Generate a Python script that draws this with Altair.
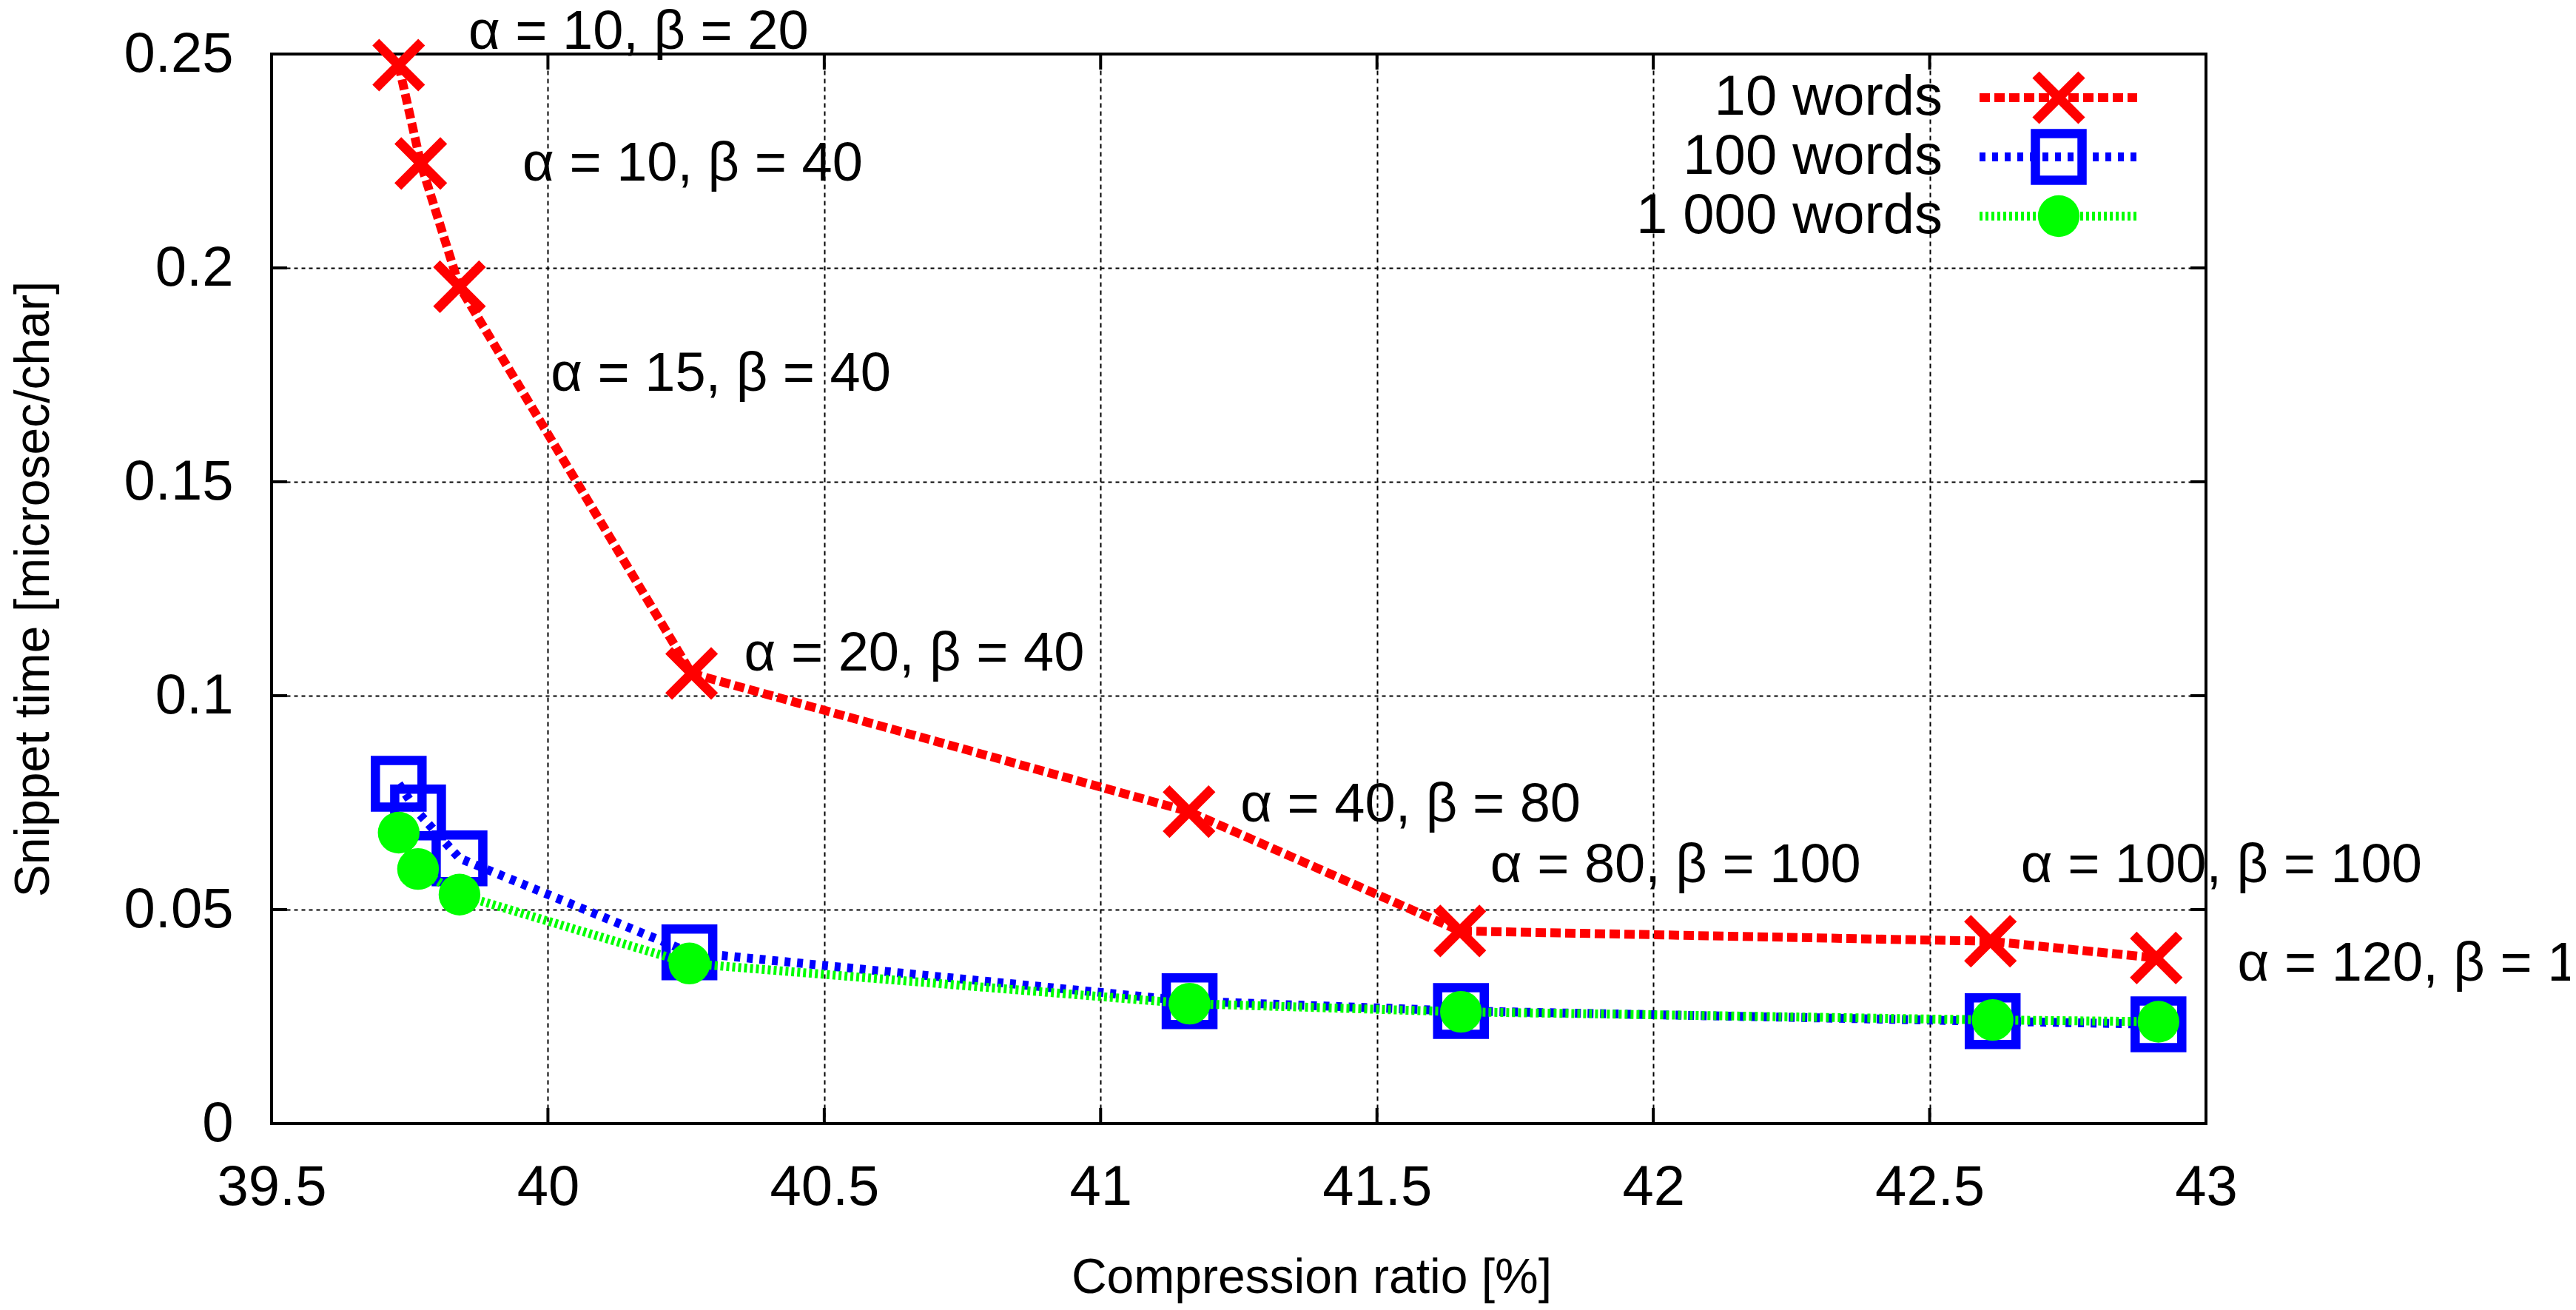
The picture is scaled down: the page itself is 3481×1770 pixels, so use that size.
import altair as alt
import pandas as pd

FONT = "Liberation Sans"

# ---- data ----
series_names = ["10 words", "100 words", "1 000 words"]
series_colors = ["#ff0000", "#0000ff", "#00ff00"]
series_dash = [[14, 6], [8, 9], [4, 4]]

ratio_10 = [39.73, 39.77, 39.84, 40.26, 41.16, 41.65, 42.61, 42.91]
time_10 = [0.2474, 0.2244, 0.1956, 0.1052, 0.0729, 0.0450, 0.0426, 0.0387]

ratio_100 = [39.73, 39.765, 39.84, 40.256, 41.161, 41.652, 42.614, 42.914]
time_100 = [0.0794, 0.0727, 0.0620, 0.0400, 0.0286, 0.0263, 0.0239, 0.0232]

ratio_1000 = [39.73, 39.765, 39.84, 40.256, 41.161, 41.652, 42.614, 42.914]
time_1000 = [0.0680, 0.0595, 0.0535, 0.0374, 0.0280, 0.0261, 0.0242, 0.0238]

label_text = ["α = 10, β = 20", "α = 10, β = 40", "α = 15, β = 40", "α = 20, β = 40",
              "α = 40, β = 80", "α = 80, β = 100", "α = 100, β = 100", "α = 120, β = 120"]
label_ratio = [39.856, 39.954, 40.005, 40.355, 41.253, 41.705, 42.665, 43.057]
label_time = [0.2550, 0.2242, 0.1751, 0.1097, 0.0744, 0.0602, 0.0602, 0.0372]

x_ticks = [39.5, 40, 40.5, 41, 41.5, 42, 42.5, 43]
y_ticks = [0, 0.05, 0.1, 0.15, 0.2, 0.25]

# ---- layout ----
W, H = 2614, 1445
TICK = 21

rows = []
for name, xs, ys in [(series_names[0], ratio_10, time_10),
                     (series_names[1], ratio_100, time_100),
                     (series_names[2], ratio_1000, time_1000)]:
    for a, b in zip(xs, ys):
        rows.append({"series": name, "ratio": a, "time": b})
df = pd.DataFrame(rows)
labels_df = pd.DataFrame({"ratio": label_ratio, "time": label_time, "label": label_text})
xt_df = pd.DataFrame({"ratio": x_ticks})
yt_df = pd.DataFrame({"time": y_ticks})
legend_df = pd.DataFrame({"series": series_names})

xscale = alt.Scale(domain=[39.5, 43], nice=False, zero=False)
yscale = alt.Scale(domain=[0, 0.25], nice=False, zero=False)

xaxis = alt.Axis(values=x_ticks, format="~g", title="Compression ratio [%]",
                 titleFont=FONT, titleFontSize=66, titleFontWeight="normal", titleColor="black",
                 titleX=1405, titleY=228, titleBaseline="alphabetic", titleAlign="center",
                 labelFont=FONT, labelFontSize=76, labelColor="black", labelPadding=49,
                 labelFlush=False, labelOverlap=False, tickSize=0, domain=False,
                 grid=True, gridColor="#000000", gridDash=[6, 5], gridWidth=2)
yaxis = alt.Axis(values=y_ticks, format="~g", title="Snippet time [microsec/char]",
                 titleFont=FONT, titleFontSize=66, titleFontWeight="normal", titleColor="black",
                 titleAngle=270, titleX=-302, titleY=H / 2, titleBaseline="alphabetic",
                 titleAlign="center",
                 labelFont=FONT, labelFontSize=76, labelColor="black", labelPadding=52,
                 labelFlush=False, labelOverlap=False, tickSize=0, domain=False,
                 grid=True, gridColor="#000000", gridDash=[5, 5], gridWidth=2)

X = alt.X("ratio:Q", scale=xscale, axis=xaxis)
Y = alt.Y("time:Q", scale=yscale, axis=yaxis)

base = alt.Chart(df)

layers = []
# inward ticks on all four sides
layers.append(alt.Chart(xt_df).mark_rule(color="black", strokeWidth=4).encode(
    x=X, y=alt.value(H), y2=alt.value(H - TICK)))
layers.append(alt.Chart(xt_df).mark_rule(color="black", strokeWidth=4).encode(
    x=X, y=alt.value(0), y2=alt.value(TICK)))
layers.append(alt.Chart(yt_df).mark_rule(color="black", strokeWidth=4).encode(
    y=Y, x=alt.value(0), x2=alt.value(TICK)))
layers.append(alt.Chart(yt_df).mark_rule(color="black", strokeWidth=4).encode(
    y=Y, x=alt.value(W), x2=alt.value(W - TICK)))

XPATH = "M-1,-1L1,1M1,-1L-1,1"


def point_mark(i):
    if i == 0:
        return dict(shape=XPATH, size=3844, filled=False, stroke=series_colors[0],
                    strokeWidth=13, strokeCap="butt", opacity=1)
    if i == 1:
        return dict(shape="square", size=3970, filled=False, stroke=series_colors[1],
                    strokeWidth=12.5, opacity=1)
    return dict(shape="circle", size=3180, filled=True, fill=series_colors[2],
                strokeWidth=0, opacity=1)


for i, name in enumerate(series_names):
    sub = base.transform_filter(alt.datum.series == name)
    layers.append(sub.mark_line(color=series_colors[i], strokeWidth=12,
                                strokeDash=series_dash[i]).encode(x=X, y=Y))
    layers.append(sub.mark_point(**point_mark(i)).encode(x=X, y=Y))

layers.append(alt.Chart(labels_df).mark_text(
    align="left", baseline="middle", font=FONT, fontSize=74, color="black").encode(
    x=X, y=Y, text="label:N"))

main = alt.layer(*layers)

# legend (labels on the left of the samples, as in the reference)
LY = alt.Y("series:N", scale=alt.Scale(type="point", domain=series_names,
                                         range=[59, 219], padding=0), axis=None)
leg_layers = []
for i, name in enumerate(series_names):
    sub = alt.Chart(legend_df).transform_filter(alt.datum.series == name)
    leg_layers.append(sub.mark_rule(color=series_colors[i], strokeWidth=12,
                                    strokeDash=series_dash[i]).encode(
        x=alt.value(2308), x2=alt.value(2521), y=LY))
    leg_layers.append(sub.mark_point(**point_mark(i)).encode(x=alt.value(2415), y=LY))
leg_layers.append(alt.Chart(legend_df).mark_text(
    align="right", baseline="middle", font=FONT, fontSize=76, color="black").encode(
    x=alt.value(2258), y=LY, text="series:N"))
legend = alt.layer(*leg_layers)

chart = alt.layer(main, legend).resolve_scale(y="independent").properties(
    width=W, height=H,
    autosize=alt.AutoSizeParams(type="none"),
    padding={"left": 359, "top": 65, "right": 492, "bottom": 244},
    background="white",
).configure_view(stroke="black", strokeWidth=4)

chart.save("out.html", embed_options={"renderer": "svg", "actions": False})
